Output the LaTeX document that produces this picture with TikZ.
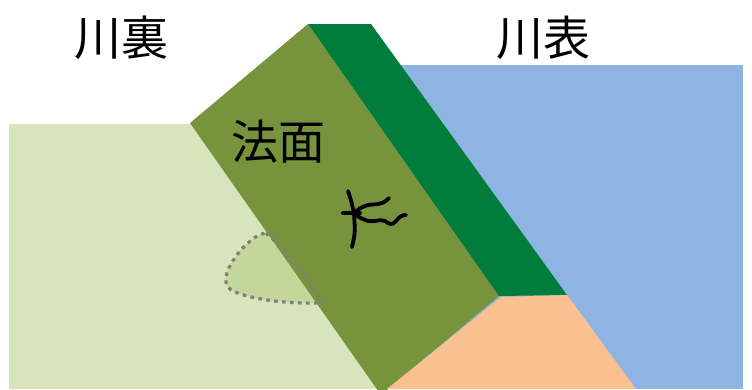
\documentclass[tikz,border=0pt]{standalone}
\usepackage{fontspec}
\newfontfamily\jpfont{Noto Sans CJK JP}
\definecolor{landfill}{HTML}{D8E4BC}
\definecolor{slopefill}{HTML}{77933C}
\definecolor{crownfill}{HTML}{007D3A}
\definecolor{waterfill}{HTML}{8EB4E3}
\definecolor{basefill}{HTML}{FAC090}
\definecolor{seepfill}{HTML}{C4D79B}
\definecolor{seepline}{HTML}{7F7F7F}
\tikzset{
  label text/.style={font=\jpfont\fontsize{47}{47}\selectfont, inner sep=0pt},
  crack/.style={line width=3.8pt, line cap=round, line join=round, black},
  seep outline/.style={draw=seepline, line width=3.2pt, dash pattern=on 3.6pt off 4.4pt, line cap=butt}
}
\begin{document}
\begin{tikzpicture}[x=1pt, y=-1pt]
  \useasboundingbox (0,0) rectangle (752,389);
  \fill[white] (0,0) rectangle (752,389);
  % land behind the levee
  \fill[landfill] (9,124) rectangle (400,389);
  % river water
  \fill[waterfill] (395,65) rectangle (743,389);
  % wet patch on the landside
  \path[fill=seepfill]
    (266,233) .. controls (285,250) and (302,268) .. (323,303)
    .. controls (290,304) and (250,300) .. (231,290)
    .. controls (220,282) and (228,266) .. (240,251)
    .. controls (250,240) and (258,234) .. (266,233) -- cycle;
  % levee body (slope face)
  \fill[slopefill] (190,123) -- (308,24) -- (499,296) -- (381,395) -- cycle;
  % crown / riverside protection strip
  \fill[crownfill] (308,24) -- (371,24) -- (567,295) -- (499,296) -- cycle;
  % foundation under the riverside toe
  \fill[basefill] (501,297) -- (567,295) -- (636,389) -- (387,389) -- cycle;
  % dotted outline of the wet patch
  \draw[seep outline]
    (266,233) .. controls (285,250) and (302,268) .. (323,303)
    .. controls (290,304) and (250,300) .. (231,290)
    .. controls (220,282) and (228,266) .. (240,251)
    .. controls (250,240) and (258,234) .. (266,233) -- cycle;
  % crack on the slope
  \coordinate (ck) at (354,213);
  \draw[crack] (348,191) .. controls (351,200) .. (ck) .. controls (355,230) .. (354,238) -- (352,247);
  \draw[crack] (343,213) -- (360,213);
  \draw[crack] (ck) .. controls (360,208) .. (365,206) .. controls (370,204) and (372,205) .. (378,204)
    .. controls (384,203) and (386,201) .. (389,198);
  \draw[crack] (ck) .. controls (360,218) .. (368,221) .. controls (375,222) and (380,219) .. (385,221)
    .. controls (389,224) and (392,226) .. (396,221) .. controls (399,217) and (402,215) .. (406,215);
  % labels
  \node[label text] (landside) at (121,38) {川裏};
  \node[label text] (riverside) at (543,38) {川表};
  \node[label text] (slopeface) at (278,142) {法面};
\end{tikzpicture}
\end{document}
